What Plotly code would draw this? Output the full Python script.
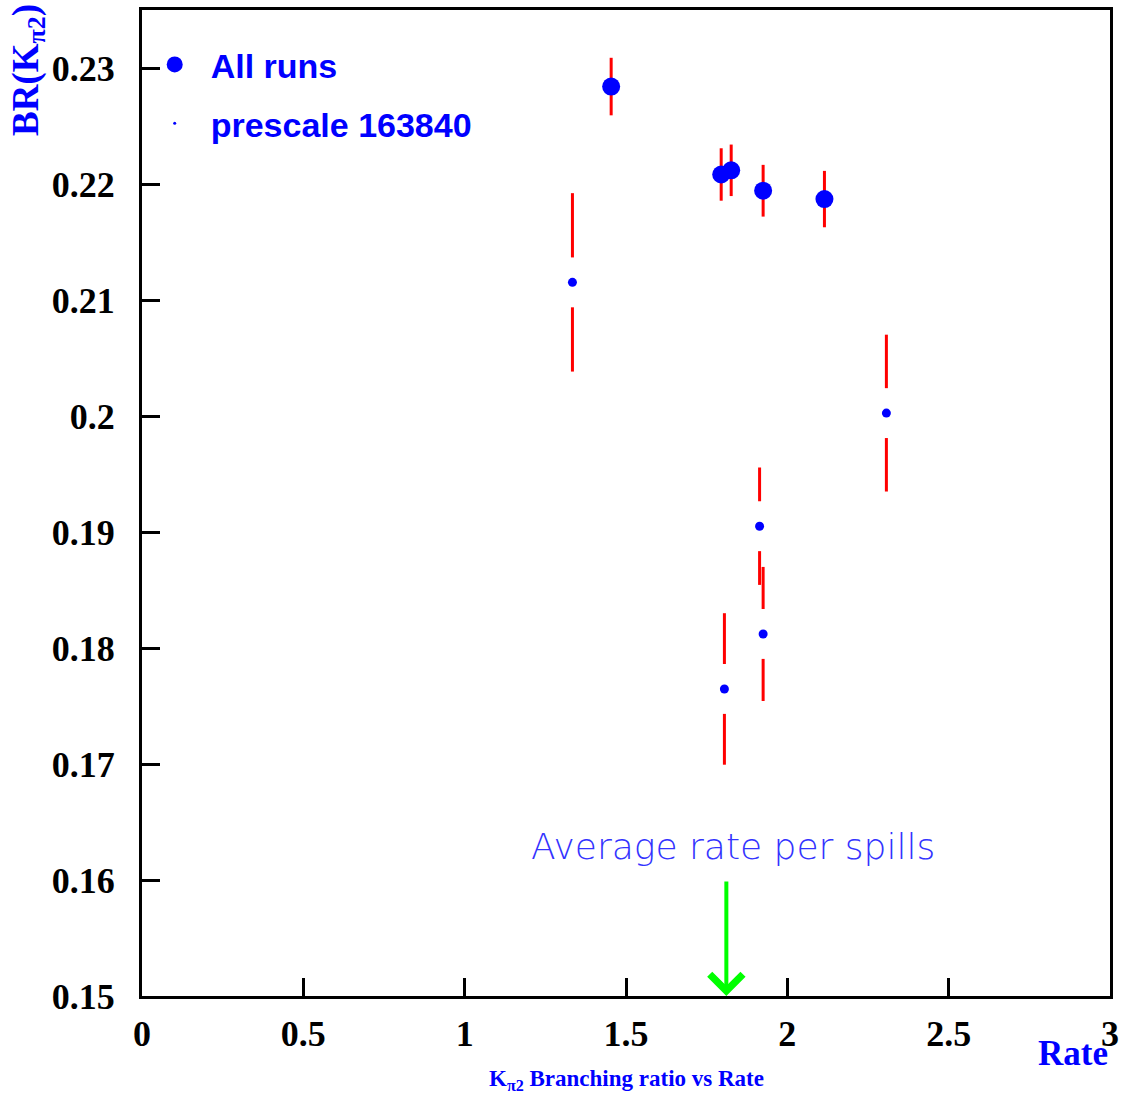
import plotly.graph_objects as go

# ---- data ----
all_rate = [1.454, 1.795, 1.826, 1.925, 2.115]
all_br = [0.2284, 0.22082, 0.22118, 0.21942, 0.2187]
all_err = [0.00248, 0.00226, 0.00222, 0.00223, 0.00243]

pre_rate = [1.334, 1.805, 1.914, 1.925, 2.307]
pre_br = [0.21152, 0.17647, 0.1905, 0.18121, 0.20025]
pre_err = [0.00769, 0.00653, 0.00506, 0.00578, 0.00676]

x_ticks = [0, 0.5, 1, 1.5, 2, 2.5, 3]
x_tick_labels = ["0", "0.5", "1", "1.5", "2", "2.5", "3"]
y_ticks = [0.15, 0.16, 0.17, 0.18, 0.19, 0.20, 0.21, 0.22, 0.23]
y_tick_labels = ["0.15", "0.16", "0.17", "0.18", "0.19", "0.2", "0.21", "0.22", "0.23"]

avg_rate = 1.811
arrow_top = 0.160
arrow_bottom = 0.150
note_text = "Average rate per spills"
note_pos = (1.833, 0.1629)

# ---- style ----
BLUE = "#0000ff"
RED = "#ff0000"
GREEN = "#00ff00"
SERIF = "Liberation Serif, Times New Roman, serif"
SANS = "Liberation Sans, Arial, sans-serif"
GAP = 0.00215  # gap (in y units) left around small markers, ROOT style

fig = go.Figure()

# error segments for prescale points (with a gap around the marker)
seg_x, seg_y = [], []
for x, y, e in zip(pre_rate, pre_br, pre_err):
    seg_x += [x, x, None, x, x, None]
    seg_y += [y - e, y - GAP, None, y + GAP, y + e, None]
fig.add_trace(go.Scatter(x=seg_x, y=seg_y, mode="lines",
                         line=dict(color=RED, width=3),
                         showlegend=False, hoverinfo="skip"))

fig.add_trace(go.Scatter(x=pre_rate, y=pre_br, mode="markers",
                         marker=dict(color=BLUE, size=9),
                         showlegend=False))

fig.add_trace(go.Scatter(x=all_rate, y=all_br, mode="markers",
                         marker=dict(color=BLUE, size=18),
                         error_y=dict(type="data", array=all_err, color=RED,
                                      thickness=3, width=0),
                         showlegend=False))

# legend proxies
fig.add_trace(go.Scatter(x=[None], y=[None], mode="markers", name="All runs",
                         marker=dict(color=BLUE, size=18), legend="legend"))
fig.add_trace(go.Scatter(x=[None], y=[None], mode="markers", name="prescale 163840",
                         marker=dict(color=BLUE, size=3), legend="legend2"))

legend_common = dict(bgcolor="rgba(0,0,0,0)", borderwidth=0,
                     font=dict(family=SANS, size=34, color=BLUE, weight="bold"),
                     xanchor="left", yanchor="middle", itemwidth=62)

fig.update_layout(
    width=1126, height=1099,
    margin=dict(l=142, r=15, t=7, b=103),
    paper_bgcolor="white", plot_bgcolor="white",
    showlegend=True,
    legend=dict(x=-0.0034, y=1 - (62 - 7) / 989, **legend_common),
    legend2=dict(x=-0.0034, y=1 - (121 - 7) / 989, **legend_common),
    xaxis=dict(range=[0, 3], tickvals=x_ticks, ticktext=x_tick_labels,
               ticks="inside", ticklen=18, tickwidth=3, tickcolor="black",
               showline=True, linewidth=3, linecolor="black", mirror=True,
               showgrid=False, zeroline=False,
               tickfont=dict(family=SERIF, size=36, color="black", weight="bold"),
               ticklabelstandoff=4),
    yaxis=dict(range=[0.15, 0.235], tickvals=y_ticks, ticktext=y_tick_labels,
               ticks="inside", ticklen=18, tickwidth=3, tickcolor="black",
               showline=True, linewidth=3, linecolor="black", mirror=True,
               showgrid=False, zeroline=False,
               tickfont=dict(family=SERIF, size=36, color="black", weight="bold"),
               ticklabelstandoff=17),
)

fig.add_annotation(x=-0.118, y=1.008, xref="paper", yref="paper",
                   text="BR(K<sub>π2</sub>)", textangle=-90, showarrow=False,
                   xanchor="center", yanchor="top",
                   font=dict(family=SERIF, size=37, color=BLUE, weight="bold"))
fig.add_annotation(x=1.0, y=-0.037, xref="paper", yref="paper",
                   text="Rate", showarrow=False, xanchor="right", yanchor="top",
                   font=dict(family=SERIF, size=35, color=BLUE, weight="bold"))
fig.add_annotation(x=0.5, y=-0.069, xref="paper", yref="paper",
                   text="K<sub>π2</sub> Branching ratio vs Rate", showarrow=False,
                   xanchor="center", yanchor="top",
                   font=dict(family=SERIF, size=23, color=BLUE, weight="bold"))
fig.add_annotation(x=note_pos[0], y=note_pos[1], xref="x", yref="y",
                   text=note_text, showarrow=False, xanchor="center", yanchor="middle",
                   font=dict(family="DejaVu Sans ExtraLight, DejaVu Sans, sans-serif",
                             size=36, color="#3333ff", weight=200))
fig.add_annotation(x=avg_rate, y=arrow_bottom, ax=avg_rate, ay=arrow_top,
                   xref="x", yref="y", axref="x", ayref="y", text="",
                   showarrow=True, arrowhead=4, arrowsize=1.6, arrowwidth=4,
                   arrowcolor=GREEN)

fig.write_html("out.html")
